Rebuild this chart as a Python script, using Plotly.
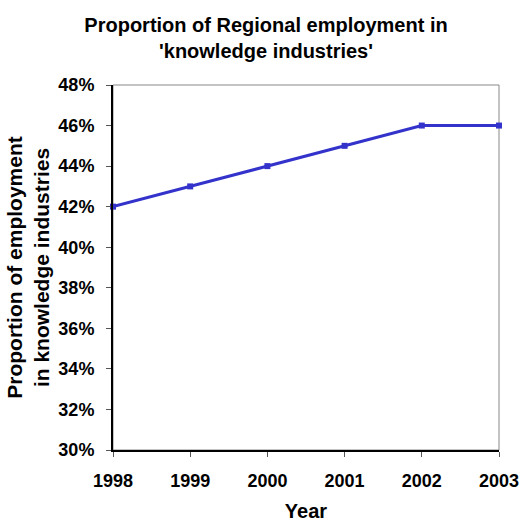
import plotly.graph_objects as go

years = [1998, 1999, 2000, 2001, 2002, 2003]
share_pct = [42, 43, 44, 45, 46, 46]
y_ticks = [30, 32, 34, 36, 38, 40, 42, 44, 46, 48]

FONT = "Liberation Sans, Arial, sans-serif"

fig = go.Figure()
fig.add_trace(go.Scatter(
    x=years, y=share_pct, mode="lines+markers",
    line=dict(color="#3333CC", width=3),
    marker=dict(symbol="square", size=6, color="#3333CC"),
    showlegend=False, cliponaxis=False,
))

fig.update_layout(
    width=522, height=522,
    margin=dict(l=113, r=23, t=85, b=72, autoexpand=False),
    paper_bgcolor="white", plot_bgcolor="white",
    font=dict(family=FONT, color="black"),
    title=dict(
        text="Proportion of Regional employment in<br>'knowledge industries'",
        x=266/522, xanchor="center", y=1 - 32/522, yanchor="middle",
        font=dict(family=FONT, size=20, weight="bold", color="black"),
    ),
    xaxis=dict(
        range=[1998, 2003], tickmode="array", tickvals=years,
        ticktext=[str(y) for y in years], automargin=False,
        showgrid=False, zeroline=False,
        showline=True, linecolor="black", linewidth=2,
        ticks="outside", ticklen=5, tickcolor="#555", tickwidth=1,
        ticklabelstandoff=8,
        tickfont=dict(family=FONT, size=18, weight="bold"),
        title=dict(text="Year", standoff=17,
                   font=dict(family=FONT, size=20, weight="bold")),
    ),
    yaxis=dict(
        range=[30, 48], tickmode="array", tickvals=y_ticks,
        ticktext=[f"{v}%" for v in y_ticks], automargin=False,
        showgrid=False, zeroline=False,
        showline=True, linecolor="black", linewidth=2,
        ticks="outside", ticklen=5, tickcolor="#555", tickwidth=1,
        ticklabelstandoff=8,
        tickfont=dict(family=FONT, size=18, weight="bold"),
        title=dict(text="Proportion of employment<br>in knowledge industries",
                   standoff=3,
                   font=dict(family=FONT, size=21, weight="bold")),
    ),
    shapes=[dict(type="rect", xref="paper", yref="paper", x0=0, y0=0, x1=1, y1=1,
                 line=dict(color="#888", width=1), layer="below")],
)

fig.write_html("out.html", config={"displayModeBar": False},
               post_script="document.body.style.margin='0';")
